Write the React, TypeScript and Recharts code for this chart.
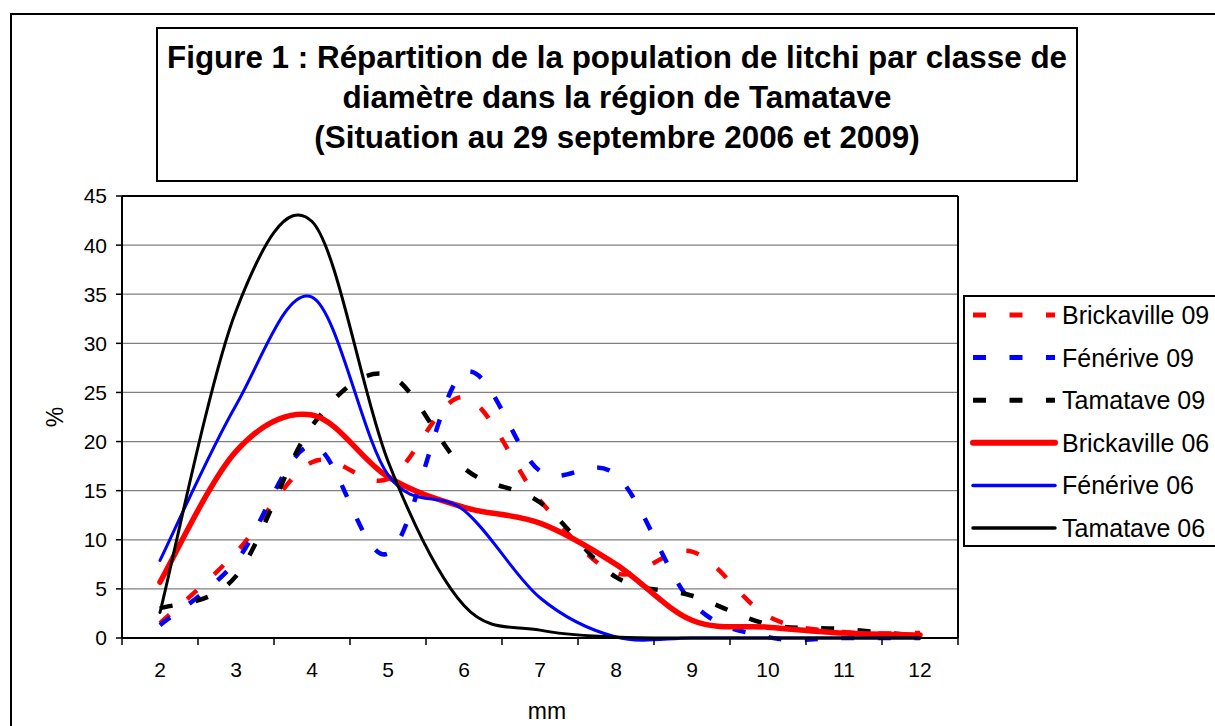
import { LineChart, Line, XAxis, YAxis, CartesianGrid, ReferenceLine } from "recharts";

const FONT = "'Liberation Sans', Arial, sans-serif";

// diameter classes (mm)
const MM = [2, 3, 4, 5, 6, 7, 8, 9, 10, 11, 12];
const Y_TICKS = [0, 5, 10, 15, 20, 25, 30, 35, 40, 45];

// % of population per class
const BRICKAVILLE_09 = [1.5, 8.7, 17.9, 16.2, 24.5, 14.0, 6.6, 8.8, 2.2, 0.6, 0.5];
const FENERIVE_09 = [1.3, 7.8, 19.6, 8.6, 27.0, 17.0, 16.6, 3.6, 0.1, 0, 0];
const TAMATAVE_09 = [3.0, 6.3, 21.6, 26.8, 17.3, 13.8, 6.2, 4.3, 1.4, 0.9, 0.2];
const BRICKAVILLE_06 = [5.7, 19.0, 22.7, 16.4, 13.3, 11.7, 7.5, 1.8, 1.1, 0.5, 0.3];
const FENERIVE_06 = [7.9, 23.7, 34.7, 16.6, 13.0, 4.1, 0.1, 0, 0, 0, 0];
const TAMATAVE_06 = [2.6, 33.3, 42.4, 18.0, 3.3, 0.8, 0.1, 0, 0, 0, 0];

const SERIES = [
  { key: "b09", name: "Brickaville 09", values: BRICKAVILLE_09, color: "#ff0000", dashed: true, width: 4.5 },
  { key: "f09", name: "Fénérive 09", values: FENERIVE_09, color: "#0000ff", dashed: true, width: 4.5 },
  { key: "t09", name: "Tamatave 09", values: TAMATAVE_09, color: "#000000", dashed: true, width: 4.5 },
  { key: "b06", name: "Brickaville 06", values: BRICKAVILLE_06, color: "#ff0000", dashed: false, width: 5.5 },
  { key: "f06", name: "Fénérive 06", values: FENERIVE_06, color: "#0000ff", dashed: false, width: 3 },
  { key: "t06", name: "Tamatave 06", values: TAMATAVE_06, color: "#000000", dashed: false, width: 3 },
];

const DASH = "13 23.5";

const data = MM.map((mm, i) => {
  const row: any = { mm };
  for (const s of SERIES) row[s.key] = s.values[i];
  return row;
});

// category boundaries for tick marks + integer positions for labels
const X_TICKS = [...MM.map((m) => m - 0.5), MM[MM.length - 1] + 0.5, ...MM].sort((a, b) => a - b);

// Excel-like smoothed line (catmull-rom style bezier)
const excelSmooth: any = (context: any) => {
  let pts: Array<[number, number]> = [];
  return {
    areaStart() {},
    areaEnd() {},
    lineStart() { pts = []; },
    point(x: number, y: number) { pts.push([+x, +y]); },
    lineEnd() {
      const n = pts.length;
      if (!n) return;
      context.moveTo(pts[0][0], pts[0][1]);
      for (let i = 0; i < n - 1; i++) {
        const p0 = pts[i > 0 ? i - 1 : i];
        const p1 = pts[i];
        const p2 = pts[i + 1];
        const p3 = pts[i + 2 < n ? i + 2 : i + 1];
        context.bezierCurveTo(
          p1[0] + (p2[0] - p0[0]) / 6, p1[1] + (p2[1] - p0[1]) / 6,
          p2[0] - (p3[0] - p1[0]) / 6, p2[1] - (p3[1] - p1[1]) / 6,
          p2[0], p2[1]
        );
      }
    },
  };
};

const XTick = (props: any) => {
  const { x, y, payload } = props;
  const v = payload.value;
  if (Number.isInteger(v)) {
    return (
      <text x={x} y={y + 31} textAnchor="middle" dominantBaseline="central"
        fontSize={21} fontFamily={FONT} fill="#000">{v}</text>
    );
  }
  return <line x1={x} y1={y} x2={x} y2={y + 7} stroke="#000" strokeWidth={1.5} />;
};

export default function App() {
  return (
    <div style={{ position: "absolute", left: 0, top: 0, width: 1215, height: 726, overflow: "hidden", background: "#fff", fontFamily: FONT }}>
      <div style={{ position: "absolute", left: 10, top: 13, width: 1300, height: 800, border: "2px solid #000" }} />

      <div style={{ position: "absolute", left: 0, top: 0 }}>
        <LineChart width={1215} height={726} data={data}
          margin={{ top: 196, right: 257, bottom: 0, left: 0 }}>
          <CartesianGrid vertical={false} stroke="#808080" strokeWidth={1.2} />
          <XAxis type="number" dataKey="mm" domain={[1.5, 12.5]} ticks={X_TICKS} interval={0}
            tick={<XTick />} tickLine={false} tickSize={0} tickMargin={0} height={88}
            axisLine={{ stroke: "#000", strokeWidth: 2 }}
            label={(p: any) => {
              const vb = p.viewBox;
              return (
                <text x={vb.x + vb.width / 2 + 7} y={vb.y + 81} textAnchor="middle"
                  fontSize={23} fontFamily={FONT} fill="#000">mm</text>
              );
            }} />
          <YAxis type="number" domain={[0, 45]} ticks={Y_TICKS} interval={0} width={122}
            tickSize={6} tickMargin={9}
            tick={{ fill: "#000", fontSize: 21, fontFamily: FONT }}
            tickLine={{ stroke: "#000", strokeWidth: 1.5 }}
            axisLine={{ stroke: "#000", strokeWidth: 2 }}
            label={(p: any) => {
              const vb = p.viewBox;
              const cx = vb.x + 55;
              const cy = vb.y + vb.height / 2;
              return (
                <text x={cx} y={cy} textAnchor="middle" dominantBaseline="central"
                  transform={`rotate(-90 ${cx} ${cy})`} fontSize={23} fontFamily={FONT} fill="#000">%</text>
              );
            }} />
          <ReferenceLine y={45} stroke="#000" strokeWidth={2} />
          <ReferenceLine x={12.5} stroke="#000" strokeWidth={2} />
          {SERIES.map((s) => (
            <Line key={s.key} type={excelSmooth} dataKey={s.key} name={s.name}
              stroke={s.color} strokeWidth={s.width}
              strokeDasharray={s.dashed ? DASH : undefined}
              strokeLinecap={s.dashed ? "butt" : "round"} strokeLinejoin="round"
              dot={false} activeDot={false} isAnimationActive={false} />
          ))}
        </LineChart>
      </div>

      <div style={{
        position: "absolute", left: 156, top: 27, width: 918, height: 142, border: "2px solid #000",
        background: "#fff", textAlign: "center", fontWeight: "bold", fontSize: 31.4, lineHeight: "40px",
        paddingTop: 9, boxSizing: "content-box", color: "#000",
      }}>
        Figure 1 : Répartition de la population de litchi par classe de<br />
        diamètre dans la région de Tamatave<br />
        (Situation au 29 septembre 2006 et 2009)
      </div>

      <div style={{ position: "absolute", left: 963, top: 295, width: 300, height: 248, border: "2px solid #000", background: "#fff" }}>
        <svg width={300} height={248} style={{ position: "absolute", left: 0, top: 0 }}>
          {SERIES.map((s, i) => {
            const y = 18 + i * 42.6;
            return (
              <g key={s.key}>
                <line x1={8} x2={90} y1={y} y2={y} stroke={s.color} strokeWidth={s.dashed ? 5 : s.width + 0.5}
                  strokeDasharray={s.dashed ? DASH : undefined} strokeLinecap={s.dashed ? "butt" : "round"} />
                <text x={97} y={y} dominantBaseline="central" fontSize={25} fontFamily={FONT} fill="#000">{s.name}</text>
              </g>
            );
          })}
        </svg>
      </div>
    </div>
  );
}
